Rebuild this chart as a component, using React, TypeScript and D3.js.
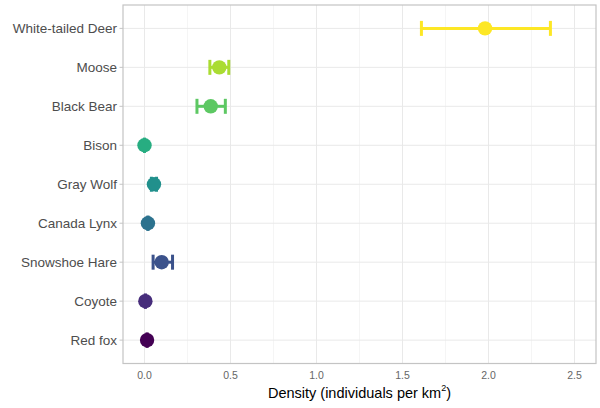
import * as d3 from 'd3';

// species from top to bottom
const species = [
  'White-tailed Deer',
  'Moose',
  'Black Bear',
  'Bison',
  'Gray Wolf',
  'Canada Lynx',
  'Snowshoe Hare',
  'Coyote',
  'Red fox',
];
const density = [1.98, 0.435, 0.385, 0.0, 0.055, 0.02, 0.1, 0.005, 0.015];
const lower = [1.61, 0.38, 0.305, 0.0, 0.04, 0.02, 0.05, 0.005, 0.015];
const upper = [2.36, 0.49, 0.47, 0.0, 0.07, 0.02, 0.163, 0.005, 0.015];
const colors = [
  '#FDE725',
  '#AADC32',
  '#5DC863',
  '#27AD81',
  '#21908C',
  '#2C728E',
  '#3B528B',
  '#472D7B',
  '#440154',
];
const xTicks = [0, 0.5, 1.0, 1.5, 2.0, 2.5];
const xMinor = [0.25, 0.75, 1.25, 1.75, 2.25];

export default function App() {
  const width = 600;
  const height = 408;
  const margin = { top: 5, right: 4, bottom: 44.5, left: 123 };
  const font = 'Liberation Sans, Arial, sans-serif';

  const x = d3
    .scaleLinear()
    .domain([-0.125, 2.625])
    .range([margin.left, width - margin.right]);

  const y = d3
    .scalePoint<string>()
    .domain(species)
    .range([margin.top, height - margin.bottom])
    .padding(0.6);

  const data = species.map((s, i) => ({
    s,
    v: density[i],
    lo: lower[i],
    hi: upper[i],
    c: colors[i],
  }));

  const capH = 7.5;

  return (
    <svg
      width={width}
      height={height}
      viewBox={`0 0 ${width} ${height}`}
      style={{ position: 'absolute', left: 0, top: 0, background: '#fff' }}
    >
      <rect x={0} y={0} width={width} height={height} fill="#fff" />
      {/* minor grid */}
      {xMinor.map((t) => (
        <line
          key={`mx${t}`}
          x1={x(t)}
          x2={x(t)}
          y1={margin.top}
          y2={height - margin.bottom}
          stroke="#efefef"
          strokeWidth={0.6}
        />
      ))}
      {/* major grid */}
      {xTicks.map((t) => (
        <line
          key={`gx${t}`}
          x1={x(t)}
          x2={x(t)}
          y1={margin.top}
          y2={height - margin.bottom}
          stroke="#e9e9e9"
          strokeWidth={1}
        />
      ))}
      {species.map((s) => (
        <line
          key={`gy${s}`}
          x1={margin.left}
          x2={width - margin.right}
          y1={y(s)}
          y2={y(s)}
          stroke="#e9e9e9"
          strokeWidth={1}
        />
      ))}
      {/* error bars */}
      {data.map((d) => (
        <g key={`e${d.s}`} stroke={d.c} strokeWidth={3}>
          <line x1={x(d.lo)} x2={x(d.hi)} y1={y(d.s)} y2={y(d.s)} />
          <line
            x1={x(d.lo)}
            x2={x(d.lo)}
            y1={(y(d.s) as number) - capH}
            y2={(y(d.s) as number) + capH}
          />
          <line
            x1={x(d.hi)}
            x2={x(d.hi)}
            y1={(y(d.s) as number) - capH}
            y2={(y(d.s) as number) + capH}
          />
        </g>
      ))}
      {/* points */}
      {data.map((d) => (
        <circle key={`p${d.s}`} cx={x(d.v)} cy={y(d.s)} r={7.2} fill={d.c} />
      ))}
      {/* panel border */}
      <rect
        x={margin.left}
        y={margin.top}
        width={width - margin.left - margin.right}
        height={height - margin.top - margin.bottom}
        fill="none"
        stroke="#c4c4c4"
        strokeWidth={1.2}
      />
      {/* y axis */}
      {species.map((s) => (
        <g key={`yl${s}`}>
          <line
            x1={margin.left - 3.5}
            x2={margin.left}
            y1={y(s)}
            y2={y(s)}
            stroke="#c4c4c4"
            strokeWidth={1}
          />
          <text
            x={margin.left - 6}
            y={y(s)}
            dy="0.35em"
            textAnchor="end"
            fontFamily={font}
            fontSize={13.5}
            fill="#4d4d4d"
          >
            {s}
          </text>
        </g>
      ))}
      {/* x axis */}
      {xTicks.map((t) => (
        <text
          key={`xl${t}`}
          x={x(t)}
          y={height - margin.bottom + 15}
          textAnchor="middle"
          fontFamily={font}
          fontSize={10.5}
          fill="#666"
        >
          {d3.format('.1f')(t)}
        </text>
      ))}
      <text
        x={(margin.left + width - margin.right) / 2}
        y={height - 10}
        textAnchor="middle"
        fontFamily={font}
        fontSize={14.5}
        fill="#000"
      >
        Density (individuals per km
        <tspan dy={-7} fontSize={9}>
          2
        </tspan>
        <tspan dy={7}>)</tspan>
      </text>
    </svg>
  );
}
